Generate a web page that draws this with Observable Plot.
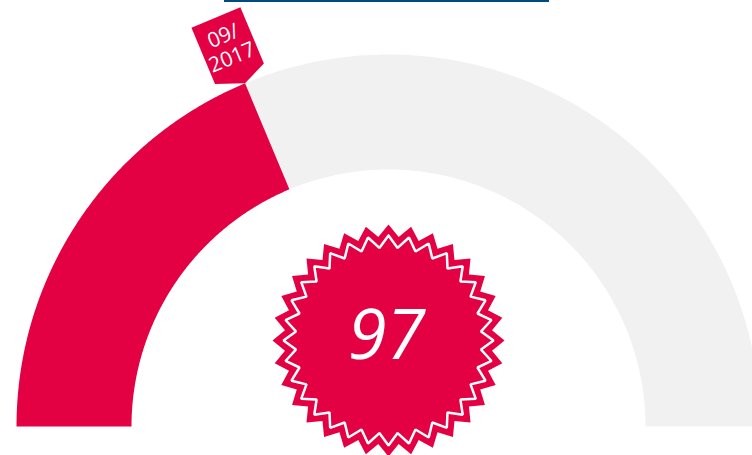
<!DOCTYPE html>
<html><head><meta charset="utf-8">
<script src="https://cdn.jsdelivr.net/npm/d3@7"></script>
<script src="https://cdn.jsdelivr.net/npm/@observablehq/plot@0.6"></script>
<style>
body{margin:0;background:#fff;overflow:hidden}
#wrap{position:relative;width:752px;height:455px}
#bar{position:absolute;left:224px;top:0;width:325px;height:2px;background:#004b84}
#wrap svg{display:block}
</style>
</head><body><div id="wrap"><div id="bar"></div></div>
<script>
// ---- data ----
const progress = [0.374];        // filled share of the gauge
const dateLabel = ["09/2017"];   // marker label
const score = ["97"];            // central score

// ---- layout (pixels) ----
const W = 752, H = 455, CX = 388, CY = 426, R = 372;
const RIN = 257 / R;
const red = "#e30043", gray = "#f1f1f1";

function sector(f0, f1, r0, r1) {
  const n = 240, pts = [];
  for (let i = 0; i <= n; i++) {
    const a = Math.PI * (1 - (f0 + (f1 - f0) * i / n));
    pts.push({x: r1 * Math.cos(a), y: r1 * Math.sin(a)});
  }
  for (let i = n; i >= 0; i--) {
    const a = Math.PI * (1 - (f0 + (f1 - f0) * i / n));
    pts.push({x: r0 * Math.cos(a), y: r0 * Math.sin(a)});
  }
  return pts;
}

function star(cy, rTip, rValley, k) {
  const pts = [];
  for (let i = 0; i <= 2 * k; i++) {
    const a = Math.PI / 2 + i * Math.PI / k;
    const r = (i % 2 === 0 ? rTip : rValley);
    pts.push({x: r * Math.cos(a), y: cy + r * Math.sin(a)});
  }
  return pts;
}

const v = progress[0];
const theta = Math.PI * (1 - v);
const er = [Math.cos(theta), Math.sin(theta)];
const et = [Math.sin(theta), -Math.cos(theta)];
const tip = [Math.cos(theta), Math.sin(theta)];
const local = (u, w) => ({x: tip[0] + (u * et[0] + w * er[0]) / R, y: tip[1] + (u * et[1] + w * er[1]) / R});
const tagPts = [local(0, 0), local(25, 11), local(25, 72), local(-28, 72), local(-28, 11), local(0, 0)];
const tagCenter = local(-2, 41);
const rot = -(theta * 180 / Math.PI - 90);

const starCy = (CY - 340) / R;
const starOuter = star(starCy, 116 / R, 104 / R, 32);
const starInner = star(starCy, 105 / R, 93 / R, 32);

const chart = Plot.plot({
  width: W, height: H, margin: 0,
  x: {domain: [-CX / R, (W - CX) / R], axis: null},
  y: {domain: [-(H - CY) / R, CY / R], axis: null},
  style: {background: "transparent"},
  marks: [
    Plot.line(sector(v, 1, RIN, 1), {x: "x", y: "y", fill: gray, stroke: "none", curve: "linear"}),
    Plot.line(sector(0, v, RIN, 1), {x: "x", y: "y", fill: red, stroke: "none", curve: "linear"}),
    Plot.line(tagPts, {x: "x", y: "y", fill: red, stroke: "none"}),
    Plot.text(dateLabel, {x: () => tagCenter.x, y: () => tagCenter.y, text: d => d.replace("/", "/\n"),
      rotate: rot, fill: "white", fontSize: 21, lineHeight: 1.1, fontFamily: "Open Sans", textAnchor: "middle", lineAnchor: "middle"}),
    Plot.line(starOuter, {x: "x", y: "y", fill: red, stroke: "none"}),
    Plot.line(starInner, {x: "x", y: "y", stroke: "white", strokeWidth: 2.5, fill: "none", strokeLinejoin: "miter"}),
    Plot.text(score, {x: () => -2 / R, y: () => (CY - 336) / R, text: d => d, fill: "white", fontSize: 70,
      fontStyle: "italic", fontFamily: "Open Sans", lineAnchor: "middle"})
  ]
});
document.getElementById("wrap").appendChild(chart);
</script>
</body></html>
